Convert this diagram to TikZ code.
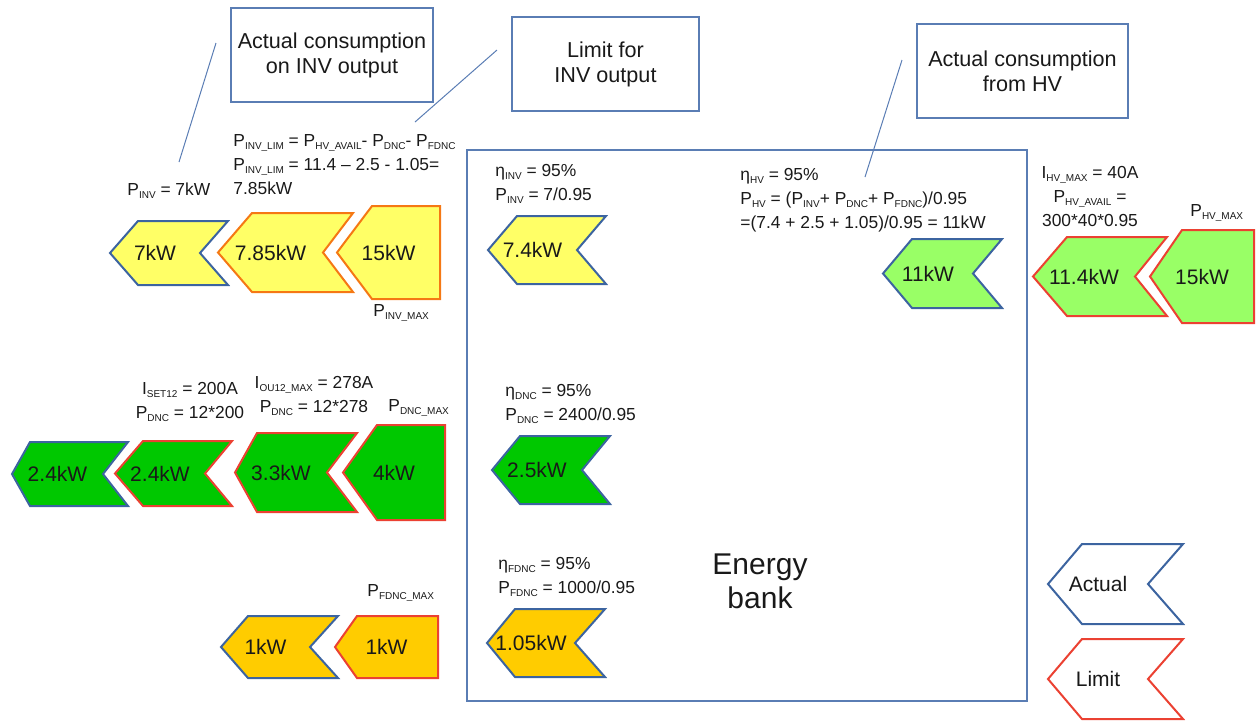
\documentclass[tikz,border=0pt]{standalone}
\usepackage{fontspec}
\setmainfont{Liberation Sans}
\usetikzlibrary{calc}
\definecolor{InvYellow}{RGB}{255,255,102}
\definecolor{DncGreen}{RGB}{0,200,0}
\definecolor{HvGreen}{RGB}{153,255,102}
\definecolor{FdncOrange}{RGB}{255,204,0}
\definecolor{ActualBlue}{RGB}{60,100,160}
\definecolor{LimitRed}{RGB}{235,65,50}
\definecolor{LimitOrange}{RGB}{245,120,20}
\definecolor{NoteBlue}{RGB}{90,125,180}
\definecolor{TextGray}{RGB}{25,25,25}

\newcommand{\lo}[1]{\raisebox{-1.5pt}{\fontsize{5pt}{5pt}\selectfont #1}}
% chevron: [style]{name}{tip x}{left x}{right x}{notch x}{top y}{bottom y}{label}
\newcommand{\chev}[9][]{%
  \draw[#1] (#3,{(#7+#8)/2}) -- (#4,#7) -- (#5,#7) -- (#6,{(#7+#8)/2})
    -- (#5,#8) -- (#4,#8) -- cycle;
  \node[kw] (#2) at ({(#3+#6)/2},{(#7+#8)/2}) {#9};}

\begin{document}
\begin{tikzpicture}[x=0.5pt,y=-0.5pt,
    actual/.style={draw=ActualBlue,line width=1pt,line join=miter},
    limitshape/.style={draw=LimitRed,line width=1pt,line join=miter},
    kw/.style={inner sep=0pt,text=TextGray,font=\fontsize{10.5}{12}\selectfont},
    calc/.style={inner sep=0pt,anchor=north west,align=left,text=TextGray,
      font=\fontsize{8.7}{12}\selectfont},
    callout/.style={draw=NoteBlue,line width=0.6pt,align=center,text=TextGray,
      font=\fontsize{10.8}{12.5}\selectfont},
    note/.style={NoteBlue,line width=0.5pt}]
  \useasboundingbox (0,0) rectangle (1258,720);

  % callout boxes
  \node[callout,minimum width=101pt,minimum height=47pt] (invact) at (332,55)
    {Actual consumption\\on INV output};
  \node[callout,minimum width=93.5pt,minimum height=47pt] (invlim) at (605.5,64)
    {Limit for\\INV output};
  \node[callout,minimum width=105.5pt,minimum height=47pt] (hvact) at (1022.5,71)
    {Actual consumption\\from HV};
  \coordinate (invact-a) at (216,43);  \coordinate (invact-b) at (179,162);
  \coordinate (invlim-a) at (497,50);  \coordinate (invlim-b) at (415,122);
  \coordinate (hvact-a) at (902,60);   \coordinate (hvact-b) at (865,177);
  \draw[note] (invact-a) -- (invact-b);
  \draw[note] (invlim-a) -- (invlim-b);
  \draw[note] (hvact-a) -- (hvact-b);

  % energy bank
  \draw[NoteBlue,line width=0.6pt] (467,150) rectangle (1027,701);
  \node[align=center,text=TextGray,font=\fontsize{15}{17}\selectfont] (bank)
    at (760,581) {Energy\\bank};

  % INV row
  \node[calc] (pinv) at (127,182) {P\lo{INV} = 7kW};
  \node[calc] (pinvlim) at (233,134)
    {P\lo{INV\_LIM} = P\lo{HV\_AVAIL}- P\lo{DNC}- P\lo{FDNC}\\
     P\lo{INV\_LIM} = 11.4 – 2.5 - 1.05=\\7.85kW};
  \node[calc] (pinvmax) at (373,304) {P\lo{INV\_MAX}};
  \chev[actual,fill=InvYellow]{inv1}{110}{138}{228}{200}{221}{285}{7kW}
  \chev[limitshape,draw=LimitOrange,fill=InvYellow]{inv2}{218}{252}{353}{323}{213}{292}{7.85kW}
  \chev[limitshape,draw=LimitOrange,fill=InvYellow]{inv3}{337}{372}{440}{440}{206}{299}{15kW}

  % DNC row
  \node[calc,anchor=north,align=center] (iset) at (190,382)
    {I\lo{SET12} = 200A\\P\lo{DNC} = 12*200};
  \node[calc,anchor=north,align=center] (iou) at (314,376)
    {I\lo{OU12\_MAX} = 278A\\P\lo{DNC} = 12*278};
  \node[calc] (pdncmax) at (388,399) {P\lo{DNC\_MAX}};
  \chev[actual,fill=DncGreen]{dnc1}{12}{30}{128}{103}{442}{506}{2.4kW}
  \chev[limitshape,fill=DncGreen]{dnc2}{115}{143}{232}{205}{441}{506}{2.4kW}
  \chev[limitshape,fill=DncGreen]{dnc3}{235}{257}{357}{327}{433}{512}{3.3kW}
  \chev[limitshape,fill=DncGreen]{dnc4}{343}{377}{445}{445}{425}{520}{4kW}

  % FDNC row
  \node[calc] (pfdncmax) at (367,584) {P\lo{FDNC\_MAX}};
  \chev[actual,fill=FdncOrange]{fdnc1}{221}{248}{338}{310}{616}{678}{1kW}
  \chev[limitshape,fill=FdncOrange]{fdnc2}{335}{357}{438}{438}{616}{678}{1kW}

  % inside the bank
  \node[calc] (etainv) at (495,164) {η\lo{INV} = 95\%\\P\lo{INV} = 7/0.95};
  \node[calc] (etadnc) at (505,384) {η\lo{DNC} = 95\%\\P\lo{DNC} = 2400/0.95};
  \node[calc] (etafdnc) at (498,557) {η\lo{FDNC} = 95\%\\P\lo{FDNC} = 1000/0.95};
  \node[calc] (etahv) at (740,168)
    {η\lo{HV} = 95\%\\P\lo{HV} = (P\lo{INV}+ P\lo{DNC}+ P\lo{FDNC})/0.95\\
     =(7.4 + 2.5 + 1.05)/0.95 = 11kW};
  \chev[actual,fill=InvYellow]{bank1}{488}{517}{606}{577}{216}{284}{7.4kW}
  \chev[actual,fill=DncGreen]{bank2}{492}{520}{610}{582}{436}{504}{2.5kW}
  \chev[actual,fill=FdncOrange]{bank3}{487}{515}{605}{575}{609}{677}{1.05kW}
  \chev[actual,fill=HvGreen]{bank4}{883}{912}{1002}{973}{239}{308}{11kW}

  % HV side
  \node[calc,anchor=north,align=center] (ihvmax) at (1090,166)
    {I\lo{HV\_MAX} = 40A\\P\lo{HV\_AVAIL} =\\300*40*0.95};
  \node[calc] (phvmax) at (1190,204) {P\lo{HV\_MAX}};
  \chev[limitshape,fill=HvGreen]{hv1}{1033}{1067}{1167}{1135}{237}{316}{11.4kW}
  \chev[limitshape,fill=HvGreen]{hv2}{1150}{1182}{1254}{1254}{230}{323}{15kW}

  % legend
  \chev[actual,fill=white]{legact}{1048}{1082}{1183}{1148}{544}{624}{Actual}
  \chev[limitshape,fill=white]{leglim}{1048}{1082}{1183}{1148}{639}{719}{Limit}
\end{tikzpicture}
\end{document}
